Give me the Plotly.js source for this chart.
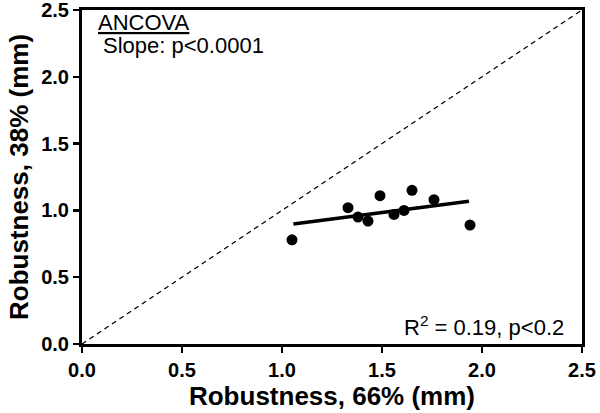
<!DOCTYPE html>
<html>
<head>
<meta charset="utf-8">
<script src="https://cdn.plot.ly/plotly-3.0.1.min.js"></script>
<style>body{margin:0;background:#fff}</style>
</head>
<body>
<div id="chart" style="width:600px;height:413px"></div>
<script>
// robustness measured at 66% vs 38%
var robust66 = [1.05, 1.33, 1.38, 1.43, 1.49, 1.56, 1.61, 1.65, 1.76, 1.94];
var robust38 = [0.78, 1.02, 0.95, 0.92, 1.11, 0.97, 1.00, 1.15, 1.08, 0.89];

var fitX = [1.057, 1.935];
var fitY = [0.899, 1.069];

var identity = [0, 2.5];

var font = 'Arial, "Liberation Sans", sans-serif';

var traces = [
  {
    x: identity, y: identity, mode: 'lines',
    line: {color: 'black', width: 1.3, dash: '5px,4px'},
    hoverinfo: 'skip'
  },
  {
    x: fitX, y: fitY, mode: 'lines',
    line: {color: 'black', width: 3.5}
  },
  {
    x: robust66, y: robust38, mode: 'markers',
    marker: {color: 'black', size: 11}
  }
];

var axisBase = {
  range: [0, 2.5],
  dtick: 0.5,
  tickformat: '.1f',
  showgrid: false,
  zeroline: false,
  showline: true,
  linecolor: 'black',
  linewidth: 3,
  mirror: true,
  ticks: 'outside',
  ticklen: 6,
  tickwidth: 2.5,
  tickcolor: 'black',
  ticklabeloverflow: 'allow',
  tickfont: {family: font, size: 20, color: 'black', weight: 'bold'}
};

var titleFont = {family: font, size: 26, color: 'black', weight: 'bold'};
var noteFont = {family: font, size: 22, color: 'black'};

var layout = {
  width: 600,
  height: 413,
  margin: {l: 82, r: 18, t: 10, b: 69},
  showlegend: false,
  paper_bgcolor: 'white',
  plot_bgcolor: 'white',
  xaxis: Object.assign({}, axisBase, {
    title: {text: 'Robustness, 66% (mm)', font: titleFont, standoff: 4}
  }),
  yaxis: Object.assign({}, axisBase, {
    title: {text: 'Robustness, 38% (mm)', font: titleFont, standoff: 6}
  }),
  annotations: [
    {xref: 'paper', yref: 'paper', x: 0.028, y: 0.963, xanchor: 'left', yanchor: 'middle',
     text: '<u>ANCOVA</u>', showarrow: false, font: noteFont},
    {xref: 'paper', yref: 'paper', x: 0.038, y: 0.893, xanchor: 'left', yanchor: 'middle',
     text: 'Slope: p<0.0001', showarrow: false, font: noteFont},
    {xref: 'paper', yref: 'paper', x: 0.968, y: 0.054, xanchor: 'right', yanchor: 'middle',
     text: 'R<sup>2</sup> = 0.19, p<0.2', showarrow: false, font: noteFont}
  ]
};

Plotly.newPlot('chart', traces, layout, {displayModeBar: false, staticPlot: true});
</script>
</body>
</html>
